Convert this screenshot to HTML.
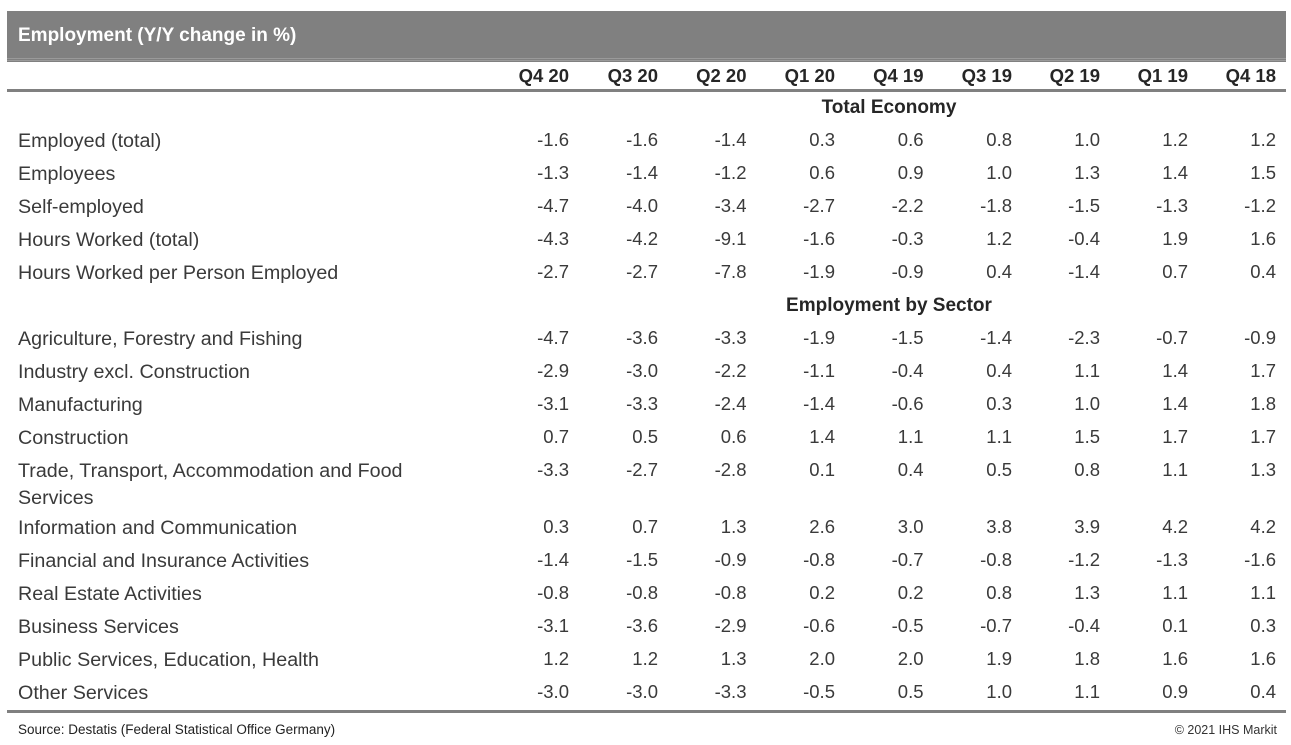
<!DOCTYPE html>
<html>
<head>
<meta charset="utf-8">
<style>
html,body{margin:0;padding:0;background:#fff;}
body{width:1291px;height:745px;position:relative;overflow:hidden;font-family:"Liberation Sans",Arial,sans-serif;}
.bar{position:absolute;left:7px;top:11px;width:1279px;height:51px;background:#808080;}
.bar .ln{position:absolute;left:0;right:0;height:1px;background:#9a9a9a;}
.title{position:absolute;left:18px;top:11px;height:50px;line-height:50px;color:#fff;font-weight:bold;font-size:19px;}
.hl{position:absolute;left:7px;width:1279px;height:3px;background:#808080;}
.r{position:absolute;height:30px;line-height:30px;white-space:nowrap;}
.lab{left:18px;font-size:19.7px;color:#3a3a3a;}
.n{font-size:18.5px;color:#3a3a3a;text-align:right;width:80px;}
.ch{font-size:18.5px;font-weight:bold;color:#262626;text-align:right;width:80px;}
.sec{font-size:19px;font-weight:bold;color:#262626;left:689px;width:400px;text-align:center;}
.src{position:absolute;left:18px;top:721px;font-family:"Liberation Sans",Arial,sans-serif;font-size:13.5px;color:#222;line-height:18px;}
.cp{position:absolute;right:14px;top:721px;font-size:12.5px;color:#333;line-height:18px;}
</style>
</head>
<body>
<div class="bar"><div class="ln" style="top:47px"></div><div class="ln" style="top:49px"></div></div>
<div class="title">Employment (Y/Y change in %)</div>
<div class="hl" style="top:89px"></div>
<div class="hl" style="top:710px"></div>

<div id="t"></div>

<div class="src">Source: Destatis (Federal Statistical Office Germany)</div>
<div class="cp">© 2021 IHS Markit</div>

<script>
(function(){
var cols=[569,658,746.5,835,923.5,1012,1100,1188,1276];
var heads=["Q4 20","Q3 20","Q2 20","Q1 20","Q4 19","Q3 19","Q2 19","Q1 19","Q4 18"];
var rows=[
["Employed (total)",140,["-1.6","-1.6","-1.4","0.3","0.6","0.8","1.0","1.2","1.2"]],
["Employees",173,["-1.3","-1.4","-1.2","0.6","0.9","1.0","1.3","1.4","1.5"]],
["Self-employed",206,["-4.7","-4.0","-3.4","-2.7","-2.2","-1.8","-1.5","-1.3","-1.2"]],
["Hours Worked (total)",239,["-4.3","-4.2","-9.1","-1.6","-0.3","1.2","-0.4","1.9","1.6"]],
["Hours Worked per Person Employed",272,["-2.7","-2.7","-7.8","-1.9","-0.9","0.4","-1.4","0.7","0.4"]],
["Agriculture, Forestry and Fishing",338,["-4.7","-3.6","-3.3","-1.9","-1.5","-1.4","-2.3","-0.7","-0.9"]],
["Industry excl. Construction",371,["-2.9","-3.0","-2.2","-1.1","-0.4","0.4","1.1","1.4","1.7"]],
["Manufacturing",404,["-3.1","-3.3","-2.4","-1.4","-0.6","0.3","1.0","1.4","1.8"]],
["Construction",437,["0.7","0.5","0.6","1.4","1.1","1.1","1.5","1.7","1.7"]],
["Trade, Transport, Accommodation and Food",470,["-3.3","-2.7","-2.8","0.1","0.4","0.5","0.8","1.1","1.3"]],
["Services",497,null],
["Information and Communication",527,["0.3","0.7","1.3","2.6","3.0","3.8","3.9","4.2","4.2"]],
["Financial and Insurance Activities",560,["-1.4","-1.5","-0.9","-0.8","-0.7","-0.8","-1.2","-1.3","-1.6"]],
["Real Estate Activities",593,["-0.8","-0.8","-0.8","0.2","0.2","0.8","1.3","1.1","1.1"]],
["Business Services",626,["-3.1","-3.6","-2.9","-0.6","-0.5","-0.7","-0.4","0.1","0.3"]],
["Public Services, Education, Health",659,["1.2","1.2","1.3","2.0","2.0","1.9","1.8","1.6","1.6"]],
["Other Services",692,["-3.0","-3.0","-3.3","-0.5","0.5","1.0","1.1","0.9","0.4"]]
];
var h="";
for(var i=0;i<heads.length;i++){
 h+='<div class="r ch" style="top:'+(76-15)+'px;left:'+(cols[i]-80)+'px">'+heads[i]+'</div>';
}
h+='<div class="r sec" style="top:'+(107-14)+'px">Total Economy</div>';
h+='<div class="r sec" style="top:'+(305-14)+'px">Employment by Sector</div>';
for(var j=0;j<rows.length;j++){
 var r=rows[j],t=r[1]-15;
 h+='<div class="r lab" style="top:'+(t+1)+'px">'+r[0]+'</div>';
 if(r[2]){for(var k=0;k<9;k++){h+='<div class="r n" style="top:'+t+'px;left:'+(cols[k]-80)+'px">'+r[2][k]+'</div>';}}
}
document.getElementById("t").innerHTML=h;
})();
</script>
</body>
</html>
